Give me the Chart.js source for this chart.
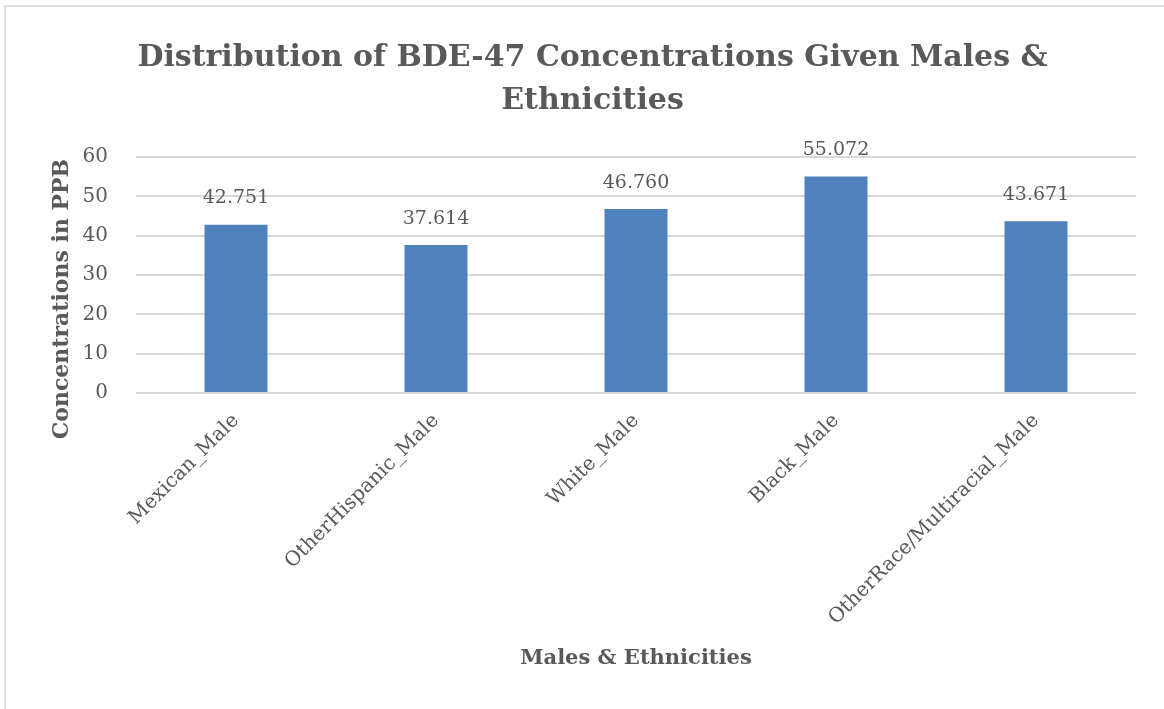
<!DOCTYPE html>
<html>
<head>
<meta charset="utf-8">
<script src="https://cdn.jsdelivr.net/npm/chart.js@4/dist/chart.umd.min.js"></script>
<style>
  html, body { margin: 0; padding: 0; background: #fff; overflow: hidden; }
  #frame {
    position: absolute; left: 4px; top: 5px; width: 1170px; height: 720px;
    border-top: 2px solid #dedede; border-left: 2px solid #dedede;
  }
  #wrap { position: absolute; left: 0; top: 0; width: 1164px; height: 709px; }
</style>
</head>
<body>
<div id="frame"></div>
<div id="wrap"><canvas id="myChart"></canvas></div>
<script>
// chart data
const categories = ['Mexican_Male', 'OtherHispanic_Male', 'White_Male', 'Black_Male', 'OtherRace/Multiracial_Male'];
const concentrations = [42.751, 37.614, 46.760, 55.072, 43.671];
const yTicks = [0, 10, 20, 30, 40, 50, 60];
const yTitle = 'Concentrations in PPB';

const textColor = '#595959';
const serif = "'DejaVu Serif', 'Liberation Serif', serif";

// draws the value above each bar, and the y axis title (a bit below centre, like the original)
const valueLabels = {
    id: 'valueLabels',
    afterDatasetsDraw(chart) {
        const ctx = chart.ctx;
        const meta = chart.getDatasetMeta(0);
        ctx.save();
        ctx.font = "19px " + serif;
        ctx.fillStyle = textColor;
        ctx.textAlign = 'center';
        ctx.textBaseline = 'bottom';
        meta.data.forEach((bar, i) => {
            ctx.fillText(concentrations[i].toFixed(3), bar.x, bar.y - 17);
        });

        const area = chart.chartArea;
        ctx.translate(62, (area.top + area.bottom) / 2 + 24);
        ctx.rotate(-Math.PI / 2);
        ctx.font = "bold 22px " + serif;
        ctx.textBaseline = 'middle';
        ctx.fillText(yTitle, 0, 0);
        ctx.restore();
    }
};

document.addEventListener('DOMContentLoaded', function () {
    const ctx = document.getElementById('myChart').getContext('2d');
    new Chart(ctx, {
        type: 'bar',
        data: {
            labels: categories,
            datasets: [{
                data: concentrations,
                backgroundColor: '#4F81BD',
                borderWidth: 0,
                categoryPercentage: 1.0,
                barPercentage: 0.315
            }]
        },
        options: {
            responsive: true,
            maintainAspectRatio: false,
            animation: false,
            layout: { padding: { left: 49, right: 28, top: 10, bottom: 34 } },
            plugins: {
                legend: { display: false },
                tooltip: { enabled: false },
                title: {
                    display: true,
                    text: ['Distribution of BDE-47 Concentrations Given Males &', 'Ethnicities'],
                    color: textColor,
                    font: { family: serif, size: 30, weight: 'bold', lineHeight: 1.45 },
                    padding: { top: 26, bottom: 34 }
                }
            },
            scales: {
                x: {
                    // rotated labels may hang past the plot edges, like the original
                    afterFit(scale) { scale.paddingLeft = 0; scale.paddingRight = 0; },
                    grid: { display: false },
                    border: { display: false },
                    ticks: {
                        color: textColor,
                        font: { family: serif, size: 20 },
                        maxRotation: 45,
                        minRotation: 45,
                        padding: 8
                    },
                    title: {
                        display: true,
                        text: 'Males & Ethnicities',
                        color: textColor,
                        font: { family: serif, size: 21, weight: 'bold' },
                        padding: { top: 8 }
                    }
                },
                y: {
                    min: 0,
                    max: 60,
                    afterBuildTicks(axis) { axis.ticks = yTicks.map(v => ({ value: v })); },
                    afterFit(scale) { scale.width = 87; },
                    grid: { color: '#d9d9d9', lineWidth: 2, drawTicks: false },
                    border: { display: false },
                    ticks: {
                        color: textColor,
                        font: { family: serif, size: 20 },
                        padding: 28
                    },
                    title: { display: false }
                }
            }
        },
        plugins: [valueLabels]
    });
});
</script>
</body>
</html>
